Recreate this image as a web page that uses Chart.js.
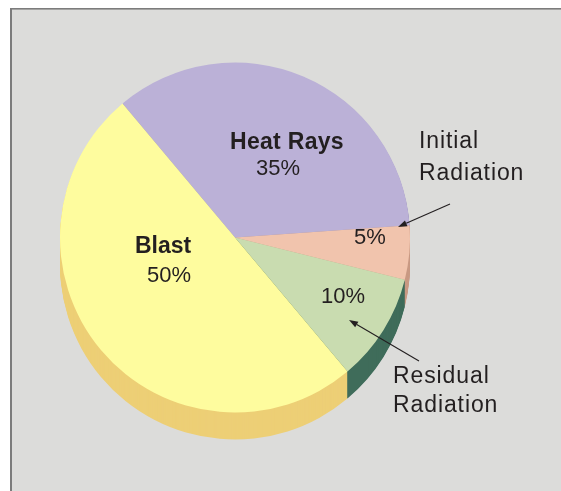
<!DOCTYPE html>
<html>
<head>
<meta charset="utf-8">
<title>Effects of a nuclear explosion</title>
<script src="https://cdn.jsdelivr.net/npm/chart.js@4.4.1/dist/chart.umd.min.js"></script>
<style>
  html, body { margin: 0; padding: 0; background: #ffffff; }
  canvas { display: block; }
</style>
</head>
<body>
<canvas id="pie" width="561" height="491"></canvas>
<script>
// Share of the energy released by a nuclear explosion
const categories = ['Heat Rays', 'Initial Radiation', 'Residual Radiation', 'Blast'];
const shares = [35, 5, 10, 50];
const valueLabels = ['35%', '5%', '10%', '50%'];

// Face colours and the darker colours used for the pie's rim
const faceColors = ['#bbb1d7', '#f1c4ad', '#c9dcb0', '#fefc9e'];
const rimColors = ['#8f86b0', '#c99a84', '#3f6c5a', '#edcf76'];

const RIM_DEPTH = 27;
const INK = '#231f20';
const FONT = '"Liberation Sans", Arial, Helvetica, sans-serif';

// Panel behind the chart: grey field with a rule on the top and left
const panelPlugin = {
  id: 'panel',
  beforeDraw(chart) {
    const ctx = chart.ctx;
    ctx.save();
    ctx.fillStyle = '#ffffff';
    ctx.fillRect(0, 0, chart.width, chart.height);
    ctx.fillStyle = '#dcdcda';
    ctx.fillRect(11, 9, chart.width - 11, chart.height - 9);
    ctx.fillStyle = '#7c7c7c';
    ctx.fillRect(10, 8, chart.width - 10, 1.6);
    ctx.fillRect(10, 8, 2, chart.height - 8);
    ctx.restore();
  }
};

// Extrude each slice downwards to give the pie its thickness
const rimPlugin = {
  id: 'rim',
  beforeDatasetsDraw(chart) {
    const ctx = chart.ctx;
    const arcs = chart.getDatasetMeta(0).data;
    ctx.save();
    arcs.forEach((arc, i) => {
      const orig = arc.options;
      arc.options = Object.assign({}, orig, {
        backgroundColor: rimColors[i],
        borderColor: rimColors[i],
        borderWidth: 0
      });
      for (let s = RIM_DEPTH; s >= 1; s--) {
        ctx.save();
        ctx.translate(0, s);
        arc.draw(ctx);
        ctx.restore();
      }
      arc.options = orig;
    });
    ctx.restore();
  }
};

// Slice names, percentages and the two callouts with arrows
const labelPlugin = {
  id: 'sliceLabels',
  afterDatasetsDraw(chart) {
    const ctx = chart.ctx;
    ctx.save();
    ctx.fillStyle = INK;
    ctx.strokeStyle = INK;
    ctx.textAlign = 'left';
    ctx.textBaseline = 'alphabetic';

    const text = (str, x, y, weight, size, spacing) => {
      ctx.font = weight + ' ' + size + 'px ' + FONT;
      ctx.letterSpacing = spacing + 'px';
      ctx.fillText(str, x, y);
    };

    // names and values inside the pie
    text(categories[0], 230, 149, 'bold', 23, 0.3);
    text(valueLabels[0], 256, 175, 'normal', 22, 0);
    text(categories[3], 135, 253, 'bold', 23, 0);
    text(valueLabels[3], 147, 282, 'normal', 22, 0);
    text(valueLabels[1], 354, 244, 'normal', 22, 0);
    text(valueLabels[2], 321, 303, 'normal', 22, 0);

    // callouts outside the pie
    const [initA, initB] = categories[1].split(' ');
    text(initA, 419, 148, 'normal', 23, 0.9);
    text(initB, 419, 180, 'normal', 23, 0.9);
    const [resA, resB] = categories[2].split(' ');
    text(resA, 393, 383, 'normal', 23, 0.9);
    text(resB, 393, 412, 'normal', 23, 0.9);

    const arrow = (x1, y1, x2, y2) => {
      const ang = Math.atan2(y2 - y1, x2 - x1);
      const len = 9, half = 3.2;
      const bx = x2 - len * Math.cos(ang), by = y2 - len * Math.sin(ang);
      ctx.lineWidth = 1.1;
      ctx.beginPath();
      ctx.moveTo(x1, y1);
      ctx.lineTo(bx, by);
      ctx.stroke();
      ctx.beginPath();
      ctx.moveTo(x2, y2);
      ctx.lineTo(bx + half * Math.sin(ang), by - half * Math.cos(ang));
      ctx.lineTo(bx - half * Math.sin(ang), by + half * Math.cos(ang));
      ctx.closePath();
      ctx.fill();
    };
    arrow(450, 204, 398, 227);
    arrow(419, 361, 349, 320);

    ctx.restore();
  }
};

new Chart(document.getElementById('pie'), {
  type: 'pie',
  data: {
    labels: categories,
    datasets: [{
      data: shares,
      backgroundColor: faceColors,
      borderWidth: 0,
      hoverOffset: 0
    }]
  },
  options: {
    responsive: false,
    animation: false,
    rotation: -40,
    layout: { padding: { left: 60, right: 151, top: 62.5, bottom: 78.5 } },
    plugins: {
      legend: { display: false },
      tooltip: { enabled: false }
    },
    events: []
  },
  plugins: [panelPlugin, rimPlugin, labelPlugin]
});
</script>
</body>
</html>
